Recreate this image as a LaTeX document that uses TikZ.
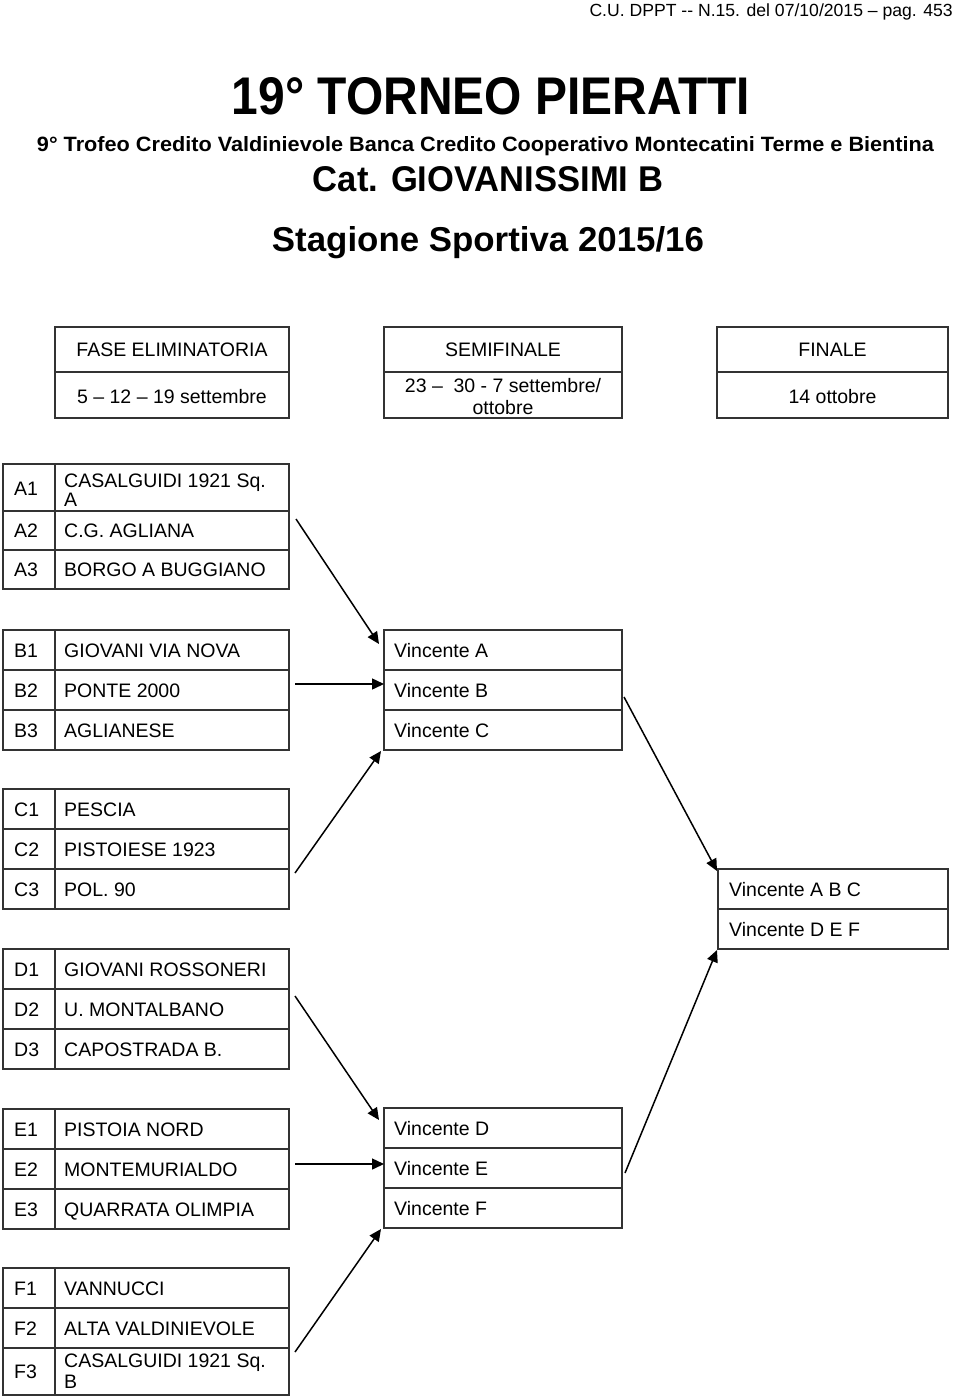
\documentclass[tikz,border=0pt]{standalone}
\usepackage{fontspec}
\setmainfont{Liberation Sans}
\usepackage{graphicx}
\usetikzlibrary{arrows.meta}
\newcommand\txtsz{\fontsize{19.5pt}{21pt}\selectfont}
\tikzset{
  boxline/.style={draw=black!80, line width=1.3pt},
  arr/.style={-{Triangle[length=12pt,width=11pt]}, line width=1.5pt, draw=black},
  txt/.style={anchor=base west, inner sep=0pt, font=\txtsz},
  ctxt/.style={anchor=base, inner sep=0pt, font=\txtsz},
  ttl/.style={anchor=base, inner sep=0pt}
}
% group of three rows of 40px: #1 top y, #2 letter, #3 #4 #5 names
\newcommand\teamgroup[5]{%
  \draw[boxline] (3,#1) rectangle (289,{#1+120});
  \draw[boxline] (55,#1) -- (55,{#1+120});
  \draw[boxline] (3,{#1+40}) -- (289,{#1+40});
  \draw[boxline] (3,{#1+80}) -- (289,{#1+80});
  \node[txt] (l#21) at (14,{#1+27}) {#21};
  \node[txt] (l#22) at (14,{#1+67}) {#22};
  \node[txt] (l#23) at (14,{#1+107}) {#23};
  \node[txt] (n#21) at (64,{#1+27}) {#3};
  \node[txt] (n#22) at (64,{#1+67}) {#4};
  \node[txt] (n#23) at (64,{#1+107}) {#5};
}
% semifinal box: #1 top y, #2 #3 #4 letters
\newcommand\winbox[4]{%
  \draw[boxline] (384,#1) rectangle (622,{#1+120});
  \draw[boxline] (384,{#1+40}) -- (622,{#1+40});
  \draw[boxline] (384,{#1+80}) -- (622,{#1+80});
  \node[txt] (v#2) at (394,{#1+27}) {Vincente #2};
  \node[txt] (v#3) at (394,{#1+67}) {Vincente #3};
  \node[txt] (v#4) at (394,{#1+107}) {Vincente #4};
}
\begin{document}
\begin{tikzpicture}[x=1pt,y=-1pt]
\useasboundingbox (0,0) rectangle (960,1397);

% page header
\node[anchor=base east, inner sep=0pt, font=\fontsize{17.6pt}{20pt}\selectfont] (hdr) at (953,16.7)
  {C.U. DPPT -{}- N.15. del 07/10/2015 – pag. 453};

% titles
\node[ttl] (title) at (491,114) {\resizebox{518pt}{37pt}{\bfseries 19° TORNEO PIERATTI}};
\node[ttl] (sub) at (485.5,151) {\resizebox{897pt}{15pt}{\bfseries 9° Trofeo Credito Valdinievole Banca Credito Cooperativo Montecatini Terme e Bientina}};
\node[ttl] (cat) at (488,191) {\resizebox{350pt}{25pt}{\bfseries Cat. GIOVANISSIMI B}};
\node[ttl] (stag) at (488,251) {\resizebox{432pt}{25pt}{\bfseries Stagione Sportiva 2015/16}};

% phase header boxes
\draw[boxline] (55,327) rectangle (289,418);
\draw[boxline] (55,372) -- (289,372);
\node[ctxt] (h1a) at (172,356.5) {FASE ELIMINATORIA};
\node[ctxt] (h1b) at (172,403) {5 – 12 – 19 settembre};

\draw[boxline] (384,327) rectangle (622,418);
\draw[boxline] (384,372) -- (622,372);
\node[ctxt] (h2a) at (503,356.5) {SEMIFINALE};
\node[ctxt] (h2b) at (503,392) {23 –\hspace{0.55em}30 - 7 settembre/};
\node[ctxt] (h2c) at (503,414) {ottobre};

\draw[boxline] (717,327) rectangle (948,418);
\draw[boxline] (717,372) -- (948,372);
\node[ctxt] (h3a) at (832.5,356.5) {FINALE};
\node[ctxt] (h3b) at (832.5,403) {14 ottobre};

% group A (first row taller)
\draw[boxline] (3,464) rectangle (289,589);
\draw[boxline] (55,464) -- (55,589);
\draw[boxline] (3,511) -- (289,511);
\draw[boxline] (3,550) -- (289,550);
\node[txt] (lA1) at (14,495) {A1};
\node[txt] (lA2) at (14,537.5) {A2};
\node[txt] (lA3) at (14,576.5) {A3};
\node[txt] (nA1) at (64,487) {CASALGUIDI 1921 Sq.};
\node[txt] (nA1b) at (64,506) {A};
\node[txt] (nA2) at (64,537.5) {C.G. AGLIANA};
\node[txt] (nA3) at (64,576.5) {BORGO A BUGGIANO};

\teamgroup{630}{B}{GIOVANI VIA NOVA}{PONTE 2000}{AGLIANESE}
\teamgroup{789}{C}{PESCIA}{PISTOIESE 1923}{POL. 90}
\teamgroup{949}{D}{GIOVANI ROSSONERI}{U. MONTALBANO}{CAPOSTRADA B.}
\teamgroup{1109}{E}{PISTOIA NORD}{MONTEMURIALDO}{QUARRATA OLIMPIA}

% group F (last row taller)
\draw[boxline] (3,1268) rectangle (289,1395);
\draw[boxline] (55,1268) -- (55,1395);
\draw[boxline] (3,1308) -- (289,1308);
\draw[boxline] (3,1348) -- (289,1348);
\node[txt] (lF1) at (14,1295) {F1};
\node[txt] (lF2) at (14,1335) {F2};
\node[txt] (lF3) at (14,1378.5) {F3};
\node[txt] (nF1) at (64,1295) {VANNUCCI};
\node[txt] (nF2) at (64,1335) {ALTA VALDINIEVOLE};
\node[txt] (nF3) at (64,1367) {CASALGUIDI 1921 Sq.};
\node[txt] (nF3b) at (64,1388) {B};

% semifinal boxes
\winbox{630}{A}{B}{C}
\winbox{1108}{D}{E}{F}

% final box
\draw[boxline] (718,869) rectangle (948,949);
\draw[boxline] (718,909) -- (948,909);
\node[txt] (fABC) at (729,896) {Vincente A B C};
\node[txt] (fDEF) at (729,936) {Vincente D E F};

% connector ends
\coordinate (sA) at (296,519);   \coordinate (tA) at (379,644);
\coordinate (sB) at (295,684);   \coordinate (tB) at (384,684);
\coordinate (sC) at (295,873);   \coordinate (tC) at (381,751);
\coordinate (sD) at (295,996);   \coordinate (tD) at (379,1120);
\coordinate (sE) at (295,1164);  \coordinate (tE) at (384,1164);
\coordinate (sF) at (295,1352);  \coordinate (tF) at (381,1229);
\coordinate (sS1) at (624,697);  \coordinate (tS1) at (717,871);
\coordinate (sS2) at (625,1173); \coordinate (tS2) at (717,950);

\draw[arr] (sA) -- (tA);
\draw[arr] (sB) -- (tB);
\draw[arr] (sC) -- (tC);
\draw[arr] (sD) -- (tD);
\draw[arr] (sE) -- (tE);
\draw[arr] (sF) -- (tF);
\draw[arr] (sS1) -- (tS1);
\draw[arr] (sS2) -- (tS2);
\end{tikzpicture}
\end{document}
